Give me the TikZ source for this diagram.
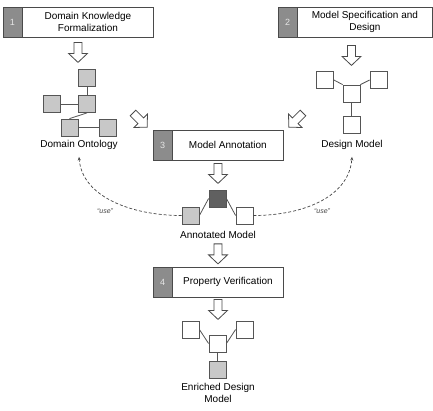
\documentclass[tikz,border=0pt]{standalone}
\usepackage{fontspec}
\setmainfont{Liberation Sans}
\usetikzlibrary{calc,arrows.meta}
\definecolor{bordc}{HTML}{4A4A4A}
\definecolor{numc}{HTML}{8C8C8C}
\definecolor{numtxt}{HTML}{E6E6E6}
\definecolor{sqc}{HTML}{555555}
\definecolor{lightc}{HTML}{C8C8C8}
\definecolor{darkc}{HTML}{606060}
\definecolor{usec}{HTML}{444444}
\begin{document}
\begin{tikzpicture}[x=1pt,y=1pt,
  stepbox/.style={draw=bordc, line width=0.8pt, fill=white, minimum height=30pt, inner sep=0pt},
  numbox/.style={draw=bordc, line width=0.8pt, fill=numc, text=numtxt, minimum height=30pt, minimum width=19pt, inner sep=0pt, font=\fontsize{9}{10}\selectfont, anchor=north west},
  boxtext/.style={align=center, font=\fontsize{10}{12}\selectfont, inner sep=0pt},
  sq/.style={draw=sqc, line width=0.8pt, minimum size=17pt, inner sep=0pt, fill=white},
  lsq/.style={sq, fill=lightc},
  dsq/.style={sq, fill=darkc},
  link/.style={draw=sqc, line width=0.8pt},
  lab/.style={font=\fontsize{10}{12}\selectfont, inner sep=0pt, align=center},
  uselab/.style={font=\fontsize{7}{8}\selectfont\itshape, text=usec, inner sep=0pt},
  usearrow/.style={draw=usec, line width=0.7pt, dash pattern=on 3pt off 2pt, -{Stealth[length=3.5pt,width=3pt]}},
  hollow/.pic={\draw[line width=0.8pt, draw=bordc, fill=white, line join=miter] (-4,0) -- (-4,-11) -- (-9.5,-11) -- (0,-20) -- (9.5,-11) -- (4,-11) -- (4,0) -- cycle;}
]
\useasboundingbox (0,0) rectangle (433,-410);

% step boxes
\node[stepbox, minimum width=150pt] (b1) at (78,-22) {};
\node[numbox] (n1) at (b1.north west) {1};
\node[boxtext] (t1) at ($(n1.east)!0.5!(b1.east)$) {Domain Knowledge\\Formalization};

\node[stepbox, minimum width=154pt] (b2) at (355,-22) {};
\node[numbox] (n2) at (b2.north west) {2};
\node[boxtext] (t2) at ($(n2.east)!0.5!(b2.east)$) {Model Specification and\\Design};

\node[stepbox, minimum width=130pt] (b3) at (218,-145) {};
\node[numbox] (n3) at (b3.north west) {3};
\node[boxtext] (t3) at ($(n3.east)!0.5!(b3.east)$) {Model Annotation};

\node[stepbox, minimum width=130pt] (b4) at (218,-282) {};
\node[numbox] (n4) at (b4.north west) {4};
\node[boxtext] (t4) at ($(n4.east)!0.5!(b4.east)$) {Property Verification};

% domain ontology
\node[lsq] (o1) at (87,-78) {};
\node[lsq] (o2) at (87,-104) {};
\node[lsq] (o3) at (52,-104) {};
\node[lsq] (o4) at (69.5,-127.5) {};
\node[lsq] (o5) at (107.5,-127.5) {};
\draw[link] (o1) -- (o2);
\draw[link] (o3) -- (o2);
\draw[link] (o2.south) -- (o4.north);
\draw[link] (o4) -- (o5);
\node[lab] (ontlab) at (79,-145) {Domain Ontology};

% design model
\node[sq] (d1) at (325,-80) {};
\node[sq] (d2) at (378.5,-80) {};
\node[sq] (dc) at (351.5,-93.5) {};
\node[sq] (d3) at (351.5,-125) {};
\draw[link] (d1.east) -- (dc.north west);
\draw[link] (d2.west) -- (dc.north east);
\draw[link] (dc) -- (d3);
\node[lab] (deslab) at (352,-145) {Design Model};

% annotated model
\node[lsq] (a1) at (190.5,-215.5) {};
\node[dsq] (a2) at (217.5,-198.5) {};
\node[sq] (a3) at (244.5,-215.5) {};
\draw[link] (a1.east) -- (a2.west);
\draw[link] (a2.east) -- (a3.west);
\node[lab] (annlab) at (218,-235) {Annotated Model};

% enriched design model
\node[sq] (e1) at (190.5,-329.5) {};
\node[sq] (e2) at (244.5,-329.5) {};
\node[sq] (ec) at (217.5,-343.5) {};
\node[lsq] (e3) at (217.5,-369.5) {};
\draw[link] (e1.east) -- (ec.west);
\draw[link] (e2.west) -- (ec.east);
\draw[link] (ec) -- (e3);
\node[lab] (enrlab) at (218,-393) {Enriched Design\\Model};

% hollow arrows
\pic at ($(b1.south)+(0,-5)$) {hollow};
\pic at ($(dc.north |- b2.south)+(0,-8)$) {hollow};
\pic[rotate=45] at (133,-113) {hollow};
\pic[rotate=-45] at (303,-113) {hollow};
\pic at ($(b3.south)+(0,-3)$) {hollow};
\pic at ($(annlab.south)+(0,-5)$) {hollow};
\pic at ($(b4.south)+(0,-2)$) {hollow};

% use arrows
\draw[usearrow] (a1.west) .. controls +(-50,0) and +(3,-40) .. ($(ontlab.south)+(0,-7)$);
\draw[usearrow] (a3.east) .. controls +(50,0) and +(-3,-40) .. ($(deslab.south)+(0,-7)$);
\node[uselab] at (105,-211) {“use”};
\node[uselab] at (322,-211) {“use”};
\end{tikzpicture}
\end{document}
